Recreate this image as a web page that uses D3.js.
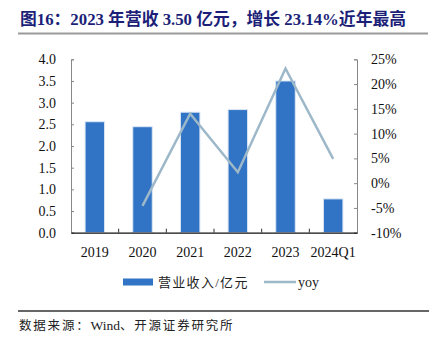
<!DOCTYPE html>
<html><head><meta charset="utf-8">
<script src="https://cdn.jsdelivr.net/npm/d3@7"></script>
<style>body{margin:0;background:#fff}svg{display:block}</style>
</head><body>
<svg id="c" width="436" height="341"></svg>
<script>
const categories = ["2019","2020","2021","2022","2023","2024Q1"];
const revenue = [2.56, 2.445, 2.78, 2.84, 3.50, 0.78];
const yoy = [null, -4.6, 14.0, 2.2, 23.14, 4.9];
const leftTicks = [0,0.5,1,1.5,2,2.5,3,3.5,4];
const rightTicks = [-10,-5,0,5,10,15,20,25];
const title = "图16：2023 年营收 3.50 亿元，增长 23.14%近年最高";
const sourceParts = ["数据来源：", "Wind", "、开源证券研究所"];
const legendNames = ["营业收入/亿元","yoy"];

const svg = d3.select("#c");
const serif = "'Liberation Serif','Times New Roman',serif";
const cjk = "'Liberation Serif','Noto Sans CJK SC',serif";
const L = 71, R = 357, T = 59.3, B = 232.7;
const x = d3.scaleBand().domain(categories).range([L,R]).paddingInner(0).paddingOuter(0);
const yL = d3.scaleLinear().domain([0,4]).range([B,T]);
const yR = d3.scaleLinear().domain([-10,25]).range([B,T]);
const barColor = "#3173c4", lineColor = "#9db8c9";

svg.append("text").attr("x",20).attr("y",25).attr("font-family",cjk).attr("font-weight","bold")
  .attr("font-size",16.8).attr("fill","#1c1f78").text(title);
svg.append("line").attr("x1",18).attr("x2",428).attr("y1",33.5).attr("y2",33.5).attr("stroke","#9a9a9a").attr("stroke-width",2);

const bw = 19.5;
svg.append("g").selectAll("rect").data(categories).join("rect")
  .attr("x",d=>x(d)+x.bandwidth()/2-bw/2).attr("width",bw)
  .attr("y",(d,i)=>yL(revenue[i])).attr("height",(d,i)=>B-yL(revenue[i]))
  .attr("fill",barColor).attr("stroke","#dce8f6").attr("stroke-width",1);

const pts = categories.map((c,i)=>[x(c)+x.bandwidth()/2, yoy[i]]).filter(p=>p[1]!==null);
svg.append("path").attr("d",d3.line().x(p=>p[0]).y(p=>yR(p[1]))(pts))
  .attr("fill","none").attr("stroke",lineColor).attr("stroke-width",2.5);

// axes
const ga = svg.append("g").attr("transform",`translate(${L},0)`)
  .call(d3.axisRight(yL).tickValues(leftTicks).tickSize(3).tickFormat(d3.format(".1f")));
ga.select(".domain").attr("stroke","#888");
ga.selectAll(".tick line").attr("stroke","#888");
ga.selectAll("text").attr("x",-15).attr("text-anchor","end").attr("font-family",serif).attr("font-size",14).attr("fill","#111");

const gr = svg.append("g").attr("transform",`translate(${R},0)`)
  .call(d3.axisLeft(yR).tickValues(rightTicks).tickSize(3).tickFormat(d=>d+"%"));
gr.select(".domain").attr("stroke","#888");
gr.selectAll(".tick line").attr("stroke","#888");
gr.selectAll("text").attr("x",14).attr("text-anchor","start").attr("font-family",serif).attr("font-size",14).attr("fill","#111");

const gb = svg.append("g").attr("transform",`translate(0,${B})`)
  .call(d3.axisBottom(x).tickSize(0));
gb.select(".domain").attr("stroke","#111").attr("stroke-width",1.3);
gb.selectAll("text").attr("y",14).attr("font-family",serif).attr("font-size",14).attr("fill","#111");
const bounds = d3.range(1,categories.length).map(i=>L+i*x.bandwidth());
svg.append("g").selectAll("line").data(bounds).join("line")
  .attr("x1",d=>d).attr("x2",d=>d).attr("y1",B).attr("y2",B-4).attr("stroke","#333");

// legend
svg.append("rect").attr("x",123).attr("y",278.5).attr("width",30).attr("height",7).attr("fill",barColor);
svg.append("text").attr("x",158).attr("y",287).attr("font-family",cjk).attr("font-size",13).attr("letter-spacing",1.3).attr("fill","#222").text(legendNames[0]);
svg.append("line").attr("x1",264).attr("x2",296).attr("y1",282).attr("y2",282).attr("stroke",lineColor).attr("stroke-width",2.5);
svg.append("text").attr("x",298).attr("y",287).attr("font-family",serif).attr("font-size",14).attr("fill","#222").text(legendNames[1]);

// source
svg.append("line").attr("x1",18).attr("x2",429).attr("y1",311).attr("y2",311).attr("stroke","#333").attr("stroke-width",1.3);
const st = svg.append("text").attr("x",19).attr("y",330).attr("font-size",12.5).attr("fill","#222");
st.selectAll("tspan").data(sourceParts).join("tspan")
  .attr("font-family",(d,i)=>i===1?serif:cjk)
  .attr("font-size",(d,i)=>i===1?13.5:12.5)
  .attr("letter-spacing",(d,i)=>i===1?0:1.8)
  .text(d=>d);
</script>
</body></html>
